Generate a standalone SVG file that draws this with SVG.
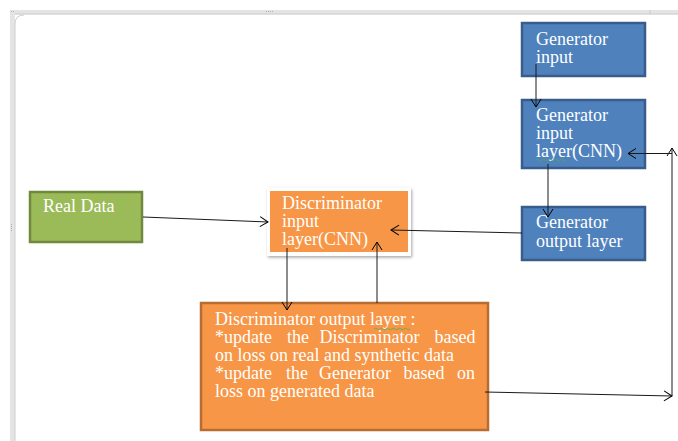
<svg xmlns="http://www.w3.org/2000/svg" width="678" height="441" viewBox="0 0 678 441">
<defs>
<marker id="arr" markerUnits="userSpaceOnUse" markerWidth="12" markerHeight="12" viewBox="0 0 12 12" refX="10" refY="6" orient="auto">
<path d="M2,1 L10,6 L2,11" fill="none" stroke="#000" stroke-width="1"/>
</marker>
<filter id="sh" x="-10%" y="-10%" width="130%" height="130%">
<feDropShadow dx="1" dy="1.5" stdDeviation="1.5" flood-color="#000" flood-opacity="0.35"/>
</filter>
</defs>
<style>
text{font-family:"Liberation Serif","Times New Roman",serif;font-size:18px;fill:#fff}
.blue{fill:#4F81BD;stroke:#385D8A;stroke-width:2.5}
.green{fill:#9BBB59;stroke:#71893F;stroke-width:2.5}
.orange{fill:#F79646;stroke:#B66D31;stroke-width:2.5}
.conn line,.conn polyline{stroke:#1a1a1a;stroke-width:1;fill:none}
.sq{fill:none;stroke:#4caf50;stroke-width:0.8}
</style>
<rect width="678" height="441" fill="#fff"/>
<g id="frame">
<rect x="10" y="10" width="668" height="4.5" fill="#e4e4e4"/>
<line x1="10" y1="14" x2="678" y2="14" stroke="#cfcfcf" stroke-width="1"/>
<rect x="10" y="10" width="5" height="431" fill="#e4e4e4"/>
<path d="M15,441 L15,24 Q15,15 24,15" fill="none" stroke="#cfcfcf" stroke-width="1"/>
<line x1="650" y1="10" x2="650" y2="14" stroke="#c8c8c8"/>
<g fill="#b0b0b0">
<rect x="266" y="11" width="1" height="1"/><rect x="268" y="11" width="1" height="1"/><rect x="270" y="11" width="1" height="1"/><rect x="272" y="11" width="1" height="1"/>
<rect x="11" y="224" width="1" height="1"/><rect x="11" y="226" width="1" height="1"/><rect x="11" y="228" width="1" height="1"/><rect x="11" y="230" width="1" height="1"/>
<rect x="11" y="11" width="1" height="1"/><rect x="13" y="11" width="1" height="1"/>
</g>
</g>
<g id="gen-input">
<rect class="blue" x="522" y="23" width="123" height="53"/>
<text x="536" y="45">Generator</text>
<text x="536" y="63">input</text>
</g>
<g id="gen-input-layer">
<rect class="blue" x="522" y="100" width="123" height="68"/>
<text x="536" y="121">Generator</text>
<text x="536" y="139">input</text>
<text x="536" y="157">layer(CNN)</text>
<path class="sq" d="M536,160 q1.5,-1.5 3,0 t3,0 t3,0 t3,0 t3,0 t3,0 t3,0 t3,0 t3,0 t3,0"/>
</g>
<g id="gen-output-layer">
<rect class="blue" x="522" y="207" width="123" height="53"/>
<text x="536" y="228">Generator</text>
<text x="536" y="247">output layer</text>
</g>
<g id="real-data">
<rect class="green" x="30" y="192" width="112" height="50"/>
<text x="43" y="212">Real Data</text>
</g>
<g id="disc-input">
<rect x="267" y="188" width="144" height="68" fill="#fff" filter="url(#sh)"/>
<rect x="270" y="191" width="138" height="61" fill="#F79646"/>
<text x="282" y="209">Discriminator</text>
<text x="282" y="227">input</text>
<text x="282" y="245">layer(CNN)</text>
</g>
<g id="disc-output">
<rect class="orange" x="201" y="303" width="287" height="127"/>
<text x="215" y="325">Discriminator output layer :</text>
<path class="sq" d="M374,329 q1.5,-1.5 3,0 t3,0 t3,0 t3,0 t3,0 t3,0 t3,0 t3,0 t3,0 t3,0 t3,0 t3,0"/>
<text y="343"><tspan x="215">*update</tspan><tspan x="287">the</tspan><tspan x="319.5">Discriminator</tspan><tspan x="434.5">based</tspan></text>
<text x="215" y="361">on loss on real and synthetic data</text>
<text y="378.5"><tspan x="215">*update</tspan><tspan x="286">the</tspan><tspan x="319">Generator</tspan><tspan x="403.5">based</tspan><tspan x="457">on</tspan></text>
<text x="215" y="397">loss on generated data</text>
</g>
<g id="connectors" class="conn">
<line x1="536" y1="64" x2="536" y2="107" marker-end="url(#arr)"/>
<line x1="548" y1="164" x2="548" y2="217" marker-end="url(#arr)"/>
<line x1="143" y1="217" x2="268" y2="222" marker-end="url(#arr)"/>
<line x1="522" y1="233" x2="391" y2="230" marker-end="url(#arr)"/>
<line x1="287" y1="248" x2="287" y2="310" marker-end="url(#arr)"/>
<line x1="377" y1="303" x2="377" y2="242" marker-end="url(#arr)"/>
<line x1="485" y1="392" x2="672" y2="396" marker-end="url(#arr)"/>
<line x1="672" y1="396" x2="672" y2="148" marker-end="url(#arr)"/>
<line x1="672" y1="153.5" x2="628" y2="153.5" marker-end="url(#arr)"/>
</g>
</svg>
